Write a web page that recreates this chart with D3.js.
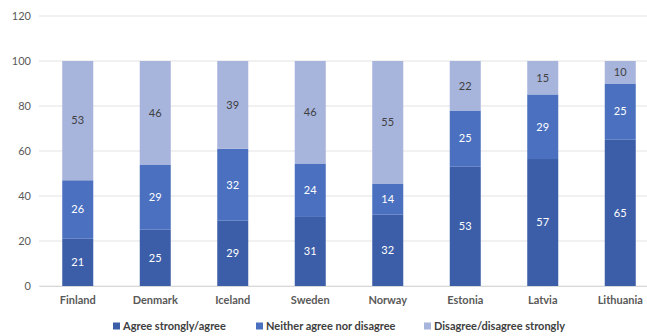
<!DOCTYPE html>
<html>
<head>
<meta charset="utf-8">
<script src="https://cdn.jsdelivr.net/npm/d3@7"></script>
<style>
  html, body { margin: 0; padding: 0; background: #fff; }
  svg { display: block; font-family: Lato, "Open Sans", sans-serif; }
</style>
</head>
<body>
<svg id="chart" width="647" height="336"></svg>
<script>
// Survey responses by country (percent)
const countries = ["Finland", "Denmark", "Iceland", "Sweden", "Norway", "Estonia", "Latvia", "Lithuania"];
const agree    = [21, 25, 29, 31, 32, 53, 57, 65];
const neither  = [26, 29, 32, 24, 14, 25, 29, 25];
const disagree = [53, 46, 39, 46, 55, 22, 15, 10];
const seriesNames = ["Agree strongly/agree", "Neither agree nor disagree", "Disagree/disagree strongly"];
const yTicks = [0, 20, 40, 60, 80, 100, 120];

const colors = ["#3c5ea8", "#4a70bf", "#a7b4dc"];
const labelColors = ["#ffffff", "#ffffff", "#404040"];

const svg = d3.select("#chart");
const W = 647;
const margin = { left: 39, top: 16, bottom: 50 };
const y0px = 286;

const x = d3.scaleBand().domain(countries).range([39, 659]).paddingInner(0.6).paddingOuter(0.3);
const y = d3.scaleLinear().domain([0, 120]).range([y0px, 16]);

// Grid lines
svg.append("g").selectAll("line").data(yTicks).join("line")
  .attr("x1", margin.left).attr("x2", W)
  .attr("y1", d => y(d)).attr("y2", d => y(d))
  .attr("stroke", "#e3e3e3").attr("stroke-width", 1);

// Y axis
const yAxis = svg.append("g").attr("transform", `translate(${margin.left - 8},0)`)
  .call(d3.axisLeft(y).tickValues(yTicks).tickSize(0).tickPadding(0));
yAxis.select(".domain").remove();
yAxis.selectAll("text").attr("fill", "#595959").attr("font-size", 11).attr("font-family", "Lato, sans-serif");

// 100% stacked data: each country's answers are scaled to a full bar
const table = countries.map((c, i) => ({ country: c, a: agree[i], n: neither[i], d: disagree[i] }));
const keys = ["a", "n", "d"];
const stack = d3.stack().keys(keys).offset(d3.stackOffsetExpand)(table);

const layers = svg.append("g").selectAll("g").data(stack).join("g")
  .attr("fill", (d, i) => colors[i]);

layers.selectAll("rect").data(d => d).join("rect")
  .attr("x", d => x(d.data.country))
  .attr("width", x.bandwidth())
  .attr("y", d => y(d[1] * 100))
  .attr("height", d => y(d[0] * 100) - y(d[1] * 100));

// Value labels (raw percentages)
stack.forEach((layer, i) => {
  svg.append("g").selectAll("text").data(layer).join("text")
    .attr("x", d => x(d.data.country) + x.bandwidth() / 2)
    .attr("y", d => y((d[0] + d[1]) * 50))
    .attr("dy", "0.35em")
    .attr("text-anchor", "middle")
    .attr("font-size", 11)
    .attr("fill", labelColors[i])
    .text(d => d.data[keys[i]]);
});

// X axis labels
const xAxis = svg.append("g").attr("transform", `translate(0,${y0px})`)
  .call(d3.axisBottom(x).tickSize(0).tickPadding(10));
xAxis.select(".domain").attr("stroke", "#d9d9d9");
xAxis.selectAll("text").attr("fill", "#595959").attr("font-size", 11)
  .attr("font-weight", "bold").attr("font-family", "Lato, sans-serif");

// Legend
const legendX = [113, 256, 424];
const legend = svg.append("g").selectAll("g").data(seriesNames).join("g")
  .attr("transform", (d, i) => `translate(${legendX[i]},326)`);
legend.append("rect").attr("x", 0).attr("y", -3.5).attr("width", 7).attr("height", 7)
  .attr("fill", (d, i) => colors[i]);
legend.append("text").attr("x", 10).attr("dy", "0.35em")
  .attr("font-size", 11).attr("font-weight", "bold").attr("fill", "#404040")
  .text(d => d);
</script>
</body>
</html>
